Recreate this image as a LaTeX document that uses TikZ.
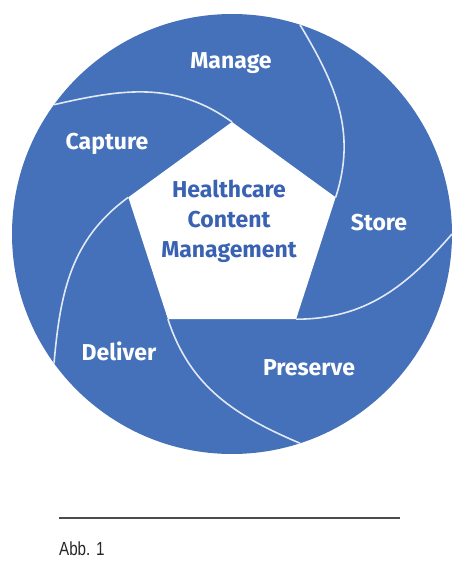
\documentclass[tikz,border=0pt]{standalone}
\usepackage{fontspec}
\setmainfont{Fira Sans}
\newfontfamily\captionfont{Liberation Sans}
\usepackage{tikz}
\usetikzlibrary{shapes.geometric}
\definecolor{irisblue}{RGB}{68,113,185}
\definecolor{hubtext}{RGB}{57,98,178}
\definecolor{seamwhite}{RGB}{226,233,246}

\begin{document}
\begin{tikzpicture}[x=1pt,y=1pt,
  seam/.style={draw=seamwhite, line width=1.6},
  tag/.style={text=white, font=\fontsize{23}{28}\selectfont\bfseries}]
\useasboundingbox (-232,234) rectangle (233,-328);
\fill[irisblue] (0,0) circle (220);
\node[regular polygon, regular polygon sides=5, minimum size=218, inner sep=0, outer sep=0, fill=white] (hub) at (0,3) {};
% ends of the seams on the rim
\coordinate (rim1) at (144:220);
\coordinate (rim5) at (72:220);
\coordinate (rim4) at (0:220);
\coordinate (rim3) at (-72:220);
\coordinate (rim2) at (-144:220);
\draw[seam] (hub.corner 1) to[out=144, in=13] (rim1);
\draw[seam] (hub.corner 5) to[out=72, in=-59] (rim5);
\draw[seam] (hub.corner 4) to[out=0, in=-131] (rim4);
\draw[seam] (hub.corner 3) to[out=-72, in=157] (rim3);
\draw[seam] (hub.corner 2) to[out=216, in=85] (rim2);
% blade labels
\node[tag] (manage) at (-1,171) {Manage};
\node[tag] (capture) at (-125,90) {Capture};
\node[tag] (store) at (147,11) {Store};
\node[tag] (preserve) at (77,-134) {Preserve};
\node[tag] (deliver) at (-113,-117) {Deliver};
\node[text=hubtext, align=center, font=\fontsize{23}{30}\selectfont\bfseries] (title) at (-3,13) {Healthcare\\Content\\Management};
% caption
\coordinate (ruleL) at (-173,-284);
\coordinate (ruleR) at (168,-284);
\draw[black!70, line width=1.2] (ruleL) -- (ruleR);
\node[anchor=west, inner sep=0, xscale=0.8, text=black!85, font=\captionfont\fontsize{19}{21}\selectfont] (abb) at (-173,-315) {Abb. 1};
\end{tikzpicture}
\end{document}
